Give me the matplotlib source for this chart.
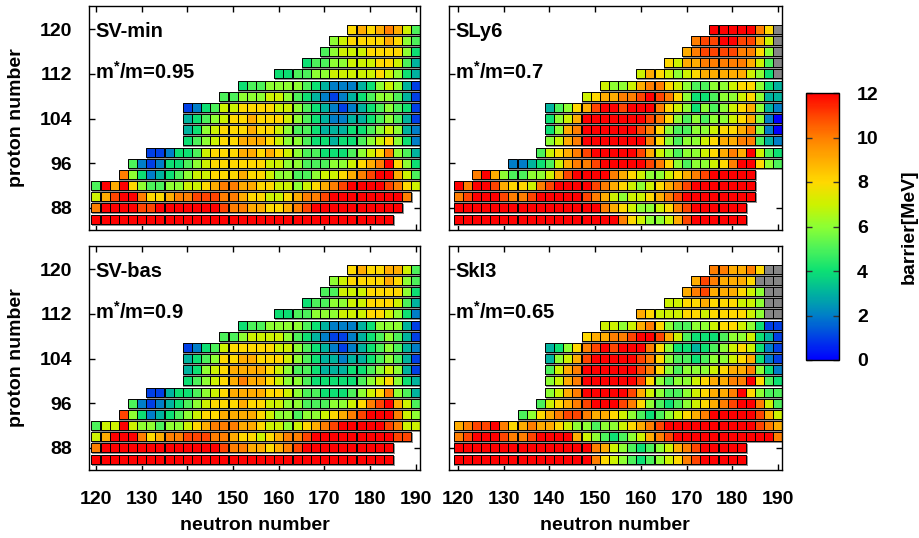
import numpy as np
import matplotlib
matplotlib.use("Agg")
import matplotlib.pyplot as plt
from matplotlib.colors import LinearSegmentedColormap
from matplotlib.transforms import offset_copy

plt.rcParams['font.family'] = ['Liberation Sans', 'DejaVu Sans']
plt.rcParams['font.weight'] = 'bold'
plt.rcParams['mathtext.fontset'] = 'custom'
plt.rcParams['mathtext.rm'] = 'Liberation Sans:bold'
plt.rcParams['mathtext.it'] = 'Liberation Sans:bold'
plt.rcParams['mathtext.bf'] = 'Liberation Sans:bold'

# ---------------- data ----------------
# proton number of each row (top to bottom); neutrons step by 2
proton_rows = [120, 118, 116, 114, 112, 110, 108, 106, 104, 102, 100, 98, 96, 94, 92, 90, 88, 86]

# barrier codes per cell: 0-9, a=10, b=11, c=12 MeV; g = no value (grey)
svmin_start = [176, 172, 170, 166, 160, 152, 148, 140, 140, 140, 140, 132, 128, 126, 120, 120, 120, 120]
svmin_rows = [
    "8989a975",
    "6788889865",
    "56777888864",
    "4556677788753",
    "4455667777787643",
    "45566665432223467631",
    "5566677654321234566531",
    "12457788887765432123456541",
    "34567889888765432233456531",
    "34678889887655433344567632",
    "45678899987665443445678642",
    "11244578889989876554445678a653",
    "521244567888888776655566789ac864",
    "a6423456778889887665567789abcc975",
    "5c9c8655667789aa9988776789abccccba87",
    "79bcca889aabbbaa9887789aabcccccccca",
    "accccbbcccccccbaa99889abcccccccccc",
    "ccccccccccccccccccccccccccccccccc",
]

svbas_start = [176, 172, 170, 166, 160, 152, 148, 140, 140, 140, 140, 132, 128, 126, 120, 120, 120, 120]
svbas_rows = [
    "89889975",
    "6788889865",
    "55777888864",
    "4556677888753",
    "4455666777887642",
    "45566665432223466631",
    "5567777654321123456531",
    "12457888887765432123456532",
    "34568899888765433233456531",
    "34678999987655433344567631",
    "456789a9987665444445678643",
    "11344567899998876554445678a653",
    "52123456788898877665556678abc975",
    "b642345678899998766566789abccca76",
    "577c766566789aaa998776789abcccccba77",
    "79ccca89aabbbaa988789aabcccccccccbb",
    "acccccccccccccbaa9989abcccccccccc",
    "ccccccccccccccccccccccccccccccccc",
]

sly6_start = [176, 172, 170, 166, 160, 152, 148, 140, 140, 140, 140, 138, 132, 124, 120, 120, 120, 120]
sly6_rows = [
    "ccccca8g",
    "abbccbb97g",
    "9abbbbaa86g",
    "8799aaaaa975g",
    "798767899999764g",
    "76679aa8765566788643",
    "7899aabcba864456678633",
    "35689bccbccca8764656789632",
    "4679cccccccba8656566789620",
    "469accccccba8655667889a620",
    "679accccccca865667899aa532",
    "5789abcccccb976566789a9c754",
    "2234579aabcccccba8656678acc865",
    "ac96556679bcccca98766789abccccc",
    "caccb9887abccccba9876789abccccccc",
    "abcccbaabcccccba9767789abcccccccc",
    "cccccccccccccccca9876678abcccccc",
    "cccccccccccccccccca876679bcccccc",
]

ski3_start = [176, 172, 170, 166, 160, 152, 148, 140, 140, 140, 140, 140, 138, 134, 120, 120, 120, 120]
ski3_rows = [
    "aa99a8gg",
    "9ba9998ggg",
    "9ab999876gg",
    "77889888776gg",
    "98777887888876gg",
    "77679a86556678876411",
    "899aabccb9754445667431",
    "3468abcbccca86443456787421",
    "3679bcccccba86554566789421",
    "579accccccba8656667899a642",
    "679accccccb865667899aac854",
    "679acccccb9765567899ac8655",
    "5789abcccba865456789abcca75",
    "5689abba998765456789acccccb97",
    "9abbca89a998766566789abccccccccccba9",
    "abcccbaabcccc976545679abccccccccccca",
    "ccccccccccccccca976545679abccccc",
    "ccccccccccccccca876545678abccccc",
]

panel_names = ["SV-min", "SLy6", "SV-bas", "SkI3"]
mass_labels = ["0.95", "0.7", "0.9", "0.65"]
panel_starts = [svmin_start, sly6_start, svbas_start, ski3_start]
panel_rows = [svmin_rows, sly6_rows, svbas_rows, ski3_rows]

x_ticks = [120, 130, 140, 150, 160, 170, 180, 190]
y_ticks = [88, 96, 104, 112, 120]
cbar_ticks = [0, 2, 4, 6, 8, 10, 12]

# ---------------- colormap ----------------
cm_points = [
    (0.0, (0.0, 0.0, 1.0)),
    (1.0, (0.0, 0.25, 0.9)),
    (2.0, (0.0, 0.5, 0.78)),
    (3.0, (0.0, 0.7, 0.62)),
    (4.0, (0.05, 0.88, 0.45)),
    (5.0, (0.3, 0.95, 0.35)),
    (6.0, (0.55, 1.0, 0.2)),
    (7.0, (0.8, 0.95, 0.0)),
    (8.0, (1.0, 0.85, 0.0)),
    (9.0, (1.0, 0.68, 0.0)),
    (10.0, (1.0, 0.5, 0.0)),
    (11.0, (1.0, 0.27, 0.0)),
    (12.0, (1.0, 0.0, 0.0)),
]
cmap = LinearSegmentedColormap.from_list("barrier", [(v / 12.0, c) for v, c in cm_points])
cmap.set_bad("#858585")


def decode(starts, rows):
    N, Z, V = [], [], []
    for z, n0, row in zip(proton_rows, starts, rows):
        for j, ch in enumerate(row):
            N.append(n0 + 2 * j)
            Z.append(z)
            V.append(np.nan if ch == 'g' else float(int(ch, 16)))
    return np.array(N), np.array(Z), np.array(V)


fig = plt.figure(figsize=(9.2, 5.38), dpi=100)


def px_axes(l, t, r, b):
    return fig.add_axes([l / 920, 1 - b / 538, (r - l) / 920, (b - t) / 538])


boxes = [(89, 6, 420, 230), (449, 6, 782, 230), (89, 246, 420, 470), (449, 246, 782, 470)]
xlims = [(118.5, 190.9), (118.0, 190.9), (118.5, 190.9), (118.0, 190.9)]

sc = None
for i in range(4):
    ax = px_axes(*boxes[i])
    N, Z, V = decode(panel_starts[i], panel_rows[i])
    shadow_tr = offset_copy(ax.transData, fig=fig, x=1.2, y=-1.4, units='dots')
    ax.scatter(N, Z, marker='s', s=42, color='#8f8f8f', linewidths=0,
               transform=shadow_tr, zorder=2)
    sc = ax.scatter(N, Z, c=V, cmap=cmap, vmin=0, vmax=12, marker='s', s=42,
                    edgecolors='black', linewidths=0.7, plotnonfinite=True, zorder=3)
    ax.set_xlim(*xlims[i])
    ax.set_ylim(84.06, 124.17)
    ax.set_xticks(x_ticks)
    ax.set_yticks(y_ticks)
    ax.tick_params(direction='in', top=True, right=True, length=4, width=1,
                   labelsize=14, zorder=5)
    ax.tick_params(axis='x', pad=15)
    ax.tick_params(axis='y', pad=12)
    if i < 2:
        ax.tick_params(labelbottom=False)
    if i % 2 == 1:
        ax.tick_params(labelleft=False)
    for sp in ax.spines.values():
        sp.set_linewidth(1.0)
        sp.set_zorder(6)
    ax.text(0.018, 0.863, panel_names[i], transform=ax.transAxes, fontsize=14.5,
            fontweight='bold', ha='left', va='baseline', zorder=7)
    ax.text(0.018, 0.674, r'm$^{*}$/m=' + mass_labels[i], transform=ax.transAxes,
            fontsize=14.5, fontweight='bold', ha='left', va='baseline', zorder=7)

# axis labels
fig.text(17 / 920, 1 - 118 / 538, 'proton number', rotation=90, ha='center', va='center',
         fontsize=14, fontweight='bold')
fig.text(17 / 920, 1 - 358 / 538, 'proton number', rotation=90, ha='center', va='center',
         fontsize=14, fontweight='bold')
fig.text(255 / 920, 1 - 526 / 538, 'neutron number', ha='center', va='center',
         fontsize=14, fontweight='bold')
fig.text(615 / 920, 1 - 526 / 538, 'neutron number', ha='center', va='center',
         fontsize=14, fontweight='bold')

# colorbar
cax = px_axes(806, 93, 839, 360)
cb = fig.colorbar(sc, cax=cax, ticks=cbar_ticks)
cb.outline.set_linewidth(1.0)
cax.tick_params(direction='in', left=True, right=True, length=4, width=1,
                color='#333333', labelsize=14, pad=13)
fig.text(909 / 920, 1 - 227 / 538, 'barrier[MeV]', rotation=90, ha='center', va='center',
         fontsize=14, fontweight='bold')

fig.savefig('out.png', dpi=100)
